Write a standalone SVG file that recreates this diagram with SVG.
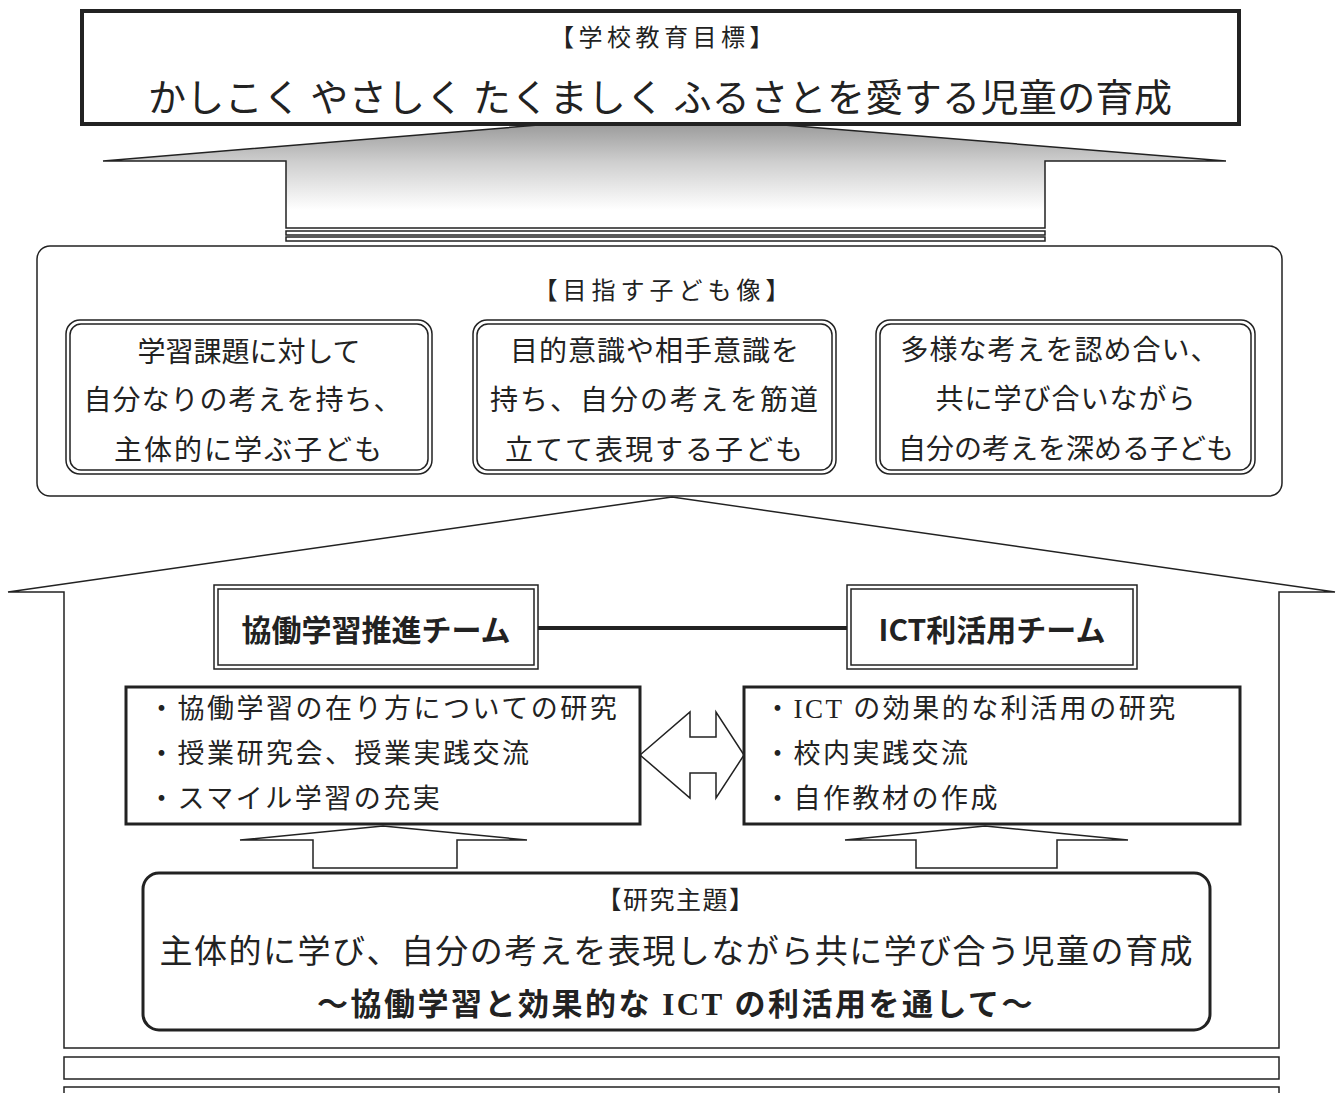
<svg xmlns="http://www.w3.org/2000/svg" width="1340" height="1093" viewBox="0 0 1340 1093">
<style>
.ln{fill:none;stroke:#222;stroke-width:1.5}
.wf{fill:#fff;stroke:#222;stroke-width:1.5}
.g{font-family:"Noto Sans CJK JP","Noto Sans",sans-serif;fill:#222}
.m{font-family:"Liberation Serif","Noto Sans CJK JP",serif;fill:#222}
.c{text-anchor:middle;dominant-baseline:central}
.l{dominant-baseline:central}
</style>
<defs>
<linearGradient id="gr" x1="0" y1="115" x2="0" y2="210" gradientUnits="userSpaceOnUse">
<stop offset="0" stop-color="#8f8f8f"/>
<stop offset="0.5" stop-color="#cfcfcf"/>
<stop offset="1" stop-color="#fff"/>
</linearGradient>
</defs>
<rect width="1340" height="1093" fill="#fff"/>

<g id="connectors">
<polygon id="arrow-top" points="660,115 1226,161 1045,161 1045,228 286,228 286,161 103,161" fill="url(#gr)" stroke="#222" stroke-width="1.5"/>
<rect x="286" y="231" width="759" height="4" class="wf"/>
<rect x="286" y="237" width="759" height="4" class="wf"/>
<polygon id="house" points="8,592 672,497 1335,592 1279,592 1279,1048 64,1048 64,592" class="wf"/>
<rect x="64" y="1057" width="1215" height="22" class="wf"/>
<rect x="64" y="1087" width="1215" height="20" class="wf"/>
<line x1="538" y1="628" x2="847" y2="628" stroke="#222" stroke-width="4"/>
<polygon id="double-arrow" points="640,755 690,712 690,737 716,737 716,712 744,755 716,798 716,773 690,773 690,798" class="wf"/>
<polygon id="arrow-left-up" points="383,826 527,840 457,840 457,868 313,868 313,840 240,840" class="wf"/>
<polygon id="arrow-right-up" points="985,826 1128,840 1057,840 1057,868 916,868 916,840 845,840" class="wf"/>
</g>

<g id="school-goal">
<rect x="82" y="11" width="1157" height="113" fill="#fff" stroke="#222" stroke-width="4"/>
<text x="664" y="38" class="m c" font-size="24" letter-spacing="4.5">【学校教育目標】</text>
<text x="660" y="94" class="g c" font-size="38" textLength="1024" lengthAdjust="spacing">かしこく やさしく たくましく ふるさとを愛する児童の育成</text>
</g>

<g id="target-child">
<rect x="37" y="246" width="1245" height="250" rx="13" class="wf"/>
<text x="664" y="288" class="g c" font-size="24" letter-spacing="5">【目指す子ども像】</text>
</g>

<g id="child-1">
<rect x="66" y="320" width="366" height="154" rx="14" class="wf"/>
<rect x="70" y="324" width="358" height="146" rx="11" class="ln"/>
<text x="249" y="350" class="g c" font-size="28">学習課題に対して</text>
<text x="243" y="398" class="g c" font-size="28" letter-spacing="1">自分なりの考えを持ち、</text>
<text x="249" y="448" class="g c" font-size="28" letter-spacing="2">主体的に学ぶ子ども</text>
</g>

<g id="child-2">
<rect x="473" y="320" width="363" height="154" rx="14" class="wf"/>
<rect x="477" y="324" width="355" height="146" rx="11" class="ln"/>
<text x="655" y="349" class="g c" font-size="28" letter-spacing="1">目的意識や相手意識を</text>
<text x="655" y="398" class="g c" font-size="28" letter-spacing="2">持ち、自分の考えを筋道</text>
<text x="655" y="448" class="g c" font-size="28" letter-spacing="2">立てて表現する子ども</text>
</g>

<g id="child-3">
<rect x="876" y="320" width="379" height="154" rx="14" class="wf"/>
<rect x="880" y="324" width="371" height="146" rx="11" class="ln"/>
<text x="1060" y="348" class="g c" font-size="28" letter-spacing="1">多様な考えを認め合い、</text>
<text x="1066" y="397" class="g c" font-size="28" letter-spacing="1">共に学び合いながら</text>
<text x="1066" y="447" class="g c" font-size="28">自分の考えを深める子ども</text>
</g>

<g id="team-kyodo">
<rect x="214" y="585" width="324" height="84" class="wf"/>
<rect x="218" y="589" width="316" height="76" class="ln"/>
<text x="376" y="628" class="g c" font-size="30" font-weight="bold">協働学習推進チーム</text>
</g>

<g id="team-ict">
<rect x="847" y="585" width="290" height="84" class="wf"/>
<rect x="851" y="589" width="282" height="76" class="ln"/>
<text x="992" y="628" class="g c" font-size="30" font-weight="bold">ICT利活用チーム</text>
</g>

<g id="kyodo-tasks">
<rect x="126" y="687" width="514" height="137" fill="#fff" stroke="#222" stroke-width="3"/>
<text x="148" y="709" class="m l" font-size="27" letter-spacing="2.5">・協働学習の在り方についての研究</text>
<text x="148" y="754" class="m l" font-size="27" letter-spacing="2.5">・授業研究会、授業実践交流</text>
<text x="148" y="799" class="m l" font-size="27" letter-spacing="2.5">・スマイル学習の充実</text>
</g>

<g id="ict-tasks">
<rect x="744" y="687" width="496" height="137" fill="#fff" stroke="#222" stroke-width="3"/>
<text x="764" y="709" class="m l" font-size="27" letter-spacing="2.5">・ICT の効果的な利活用の研究</text>
<text x="764" y="754" class="m l" font-size="27" letter-spacing="2.5">・校内実践交流</text>
<text x="764" y="799" class="m l" font-size="27" letter-spacing="2.5">・自作教材の作成</text>
</g>

<g id="research-theme">
<rect x="143" y="873" width="1067" height="157" rx="16" fill="#fff" stroke="#222" stroke-width="3"/>
<text x="676" y="900" class="m c" font-size="25" letter-spacing="1.5">【研究主題】</text>
<text x="676" y="952" class="m c" font-size="33" textLength="1033" lengthAdjust="spacing">主体的に学び、自分の考えを表現しながら共に学び合う児童の育成</text>
<text x="676" y="1004" class="m c" font-size="31" font-weight="bold" letter-spacing="2.5">～協働学習と効果的な ICT の利活用を通して～</text>
</g>
</svg>
